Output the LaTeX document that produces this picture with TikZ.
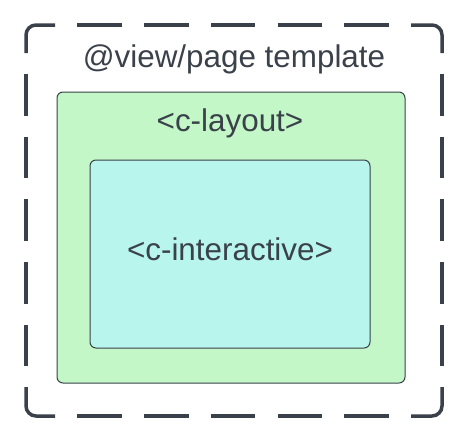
\documentclass[tikz,border=0pt]{standalone}
\usepackage{fontspec}
\setmainfont{Liberation Sans}
\definecolor{edgegray}{HTML}{3A414A}
\definecolor{layoutgreen}{HTML}{C3F7C8}
\definecolor{interteal}{HTML}{B8F5ED}

\begin{document}
\begin{tikzpicture}[x=1pt,y=-1pt,
    every node/.style={text=edgegray,anchor=base,
      font=\fontsize{31.4}{36}\selectfont},
    corner/.style={draw=edgegray,line width=3.5pt,rounded corners=10pt},
    hside/.style={draw=edgegray,line width=3.5pt,
      dash pattern=on 44.5pt off 22.25pt,dash phase=44.5pt},
    vside/.style={draw=edgegray,line width=3.5pt,
      dash pattern=on 41.75pt off 20.9pt,dash phase=41.75pt},
    box/.style={draw=edgegray,line width=1pt,rounded corners=6pt}]

    \useasboundingbox (0,0) rectangle (460,432);

    \begin{scope} % dashed template frame
      \draw[corner] (26,53) |- (55,25);
      \draw[corner] (411,25) -| (442,53);
      \draw[corner] (442,387) |- (411,416);
      \draw[corner] (55,416) -| (26,387);

      \draw[hside] (55,25) -- (411,25);
      \draw[hside] (55,416) -- (411,416);
      \draw[vside] (26,53) -- (26,387);
      \draw[vside] (442,53) -- (442,387);
    \end{scope}

    \begin{scope} % layout box
      \filldraw[box,fill=layoutgreen] (57,92) rectangle (405,383);
    \end{scope}

    \begin{scope} % interactive box
      \filldraw[box,fill=interteal] (90,160) rectangle (370,348);
    \end{scope}

    \node (template)    at (234,67)  {@view/page template};
    \node (layout)      at (230,131) {<c-layout>};
    \node (interactive) at (230,260) {<c-interactive>};
\end{tikzpicture}
\end{document}
